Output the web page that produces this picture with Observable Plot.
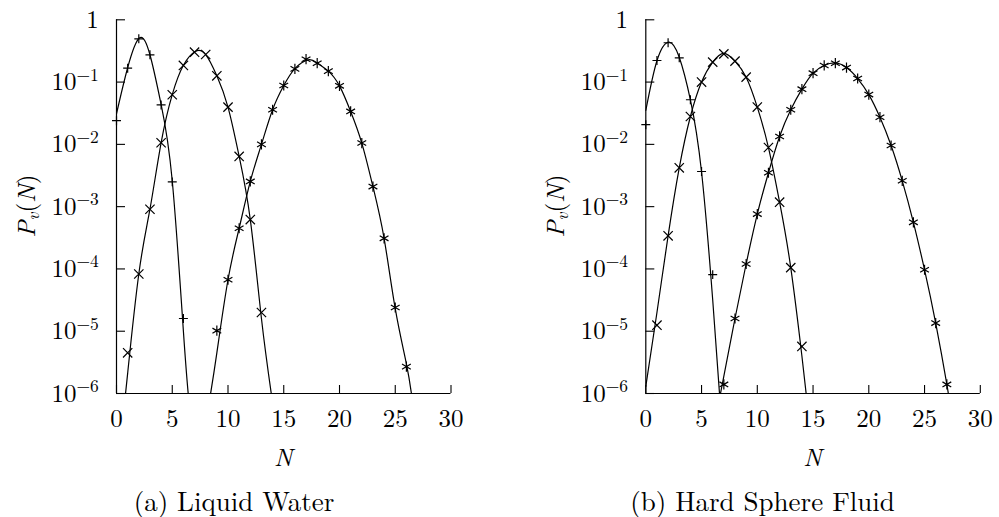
<!DOCTYPE html>
<html><head><meta charset="utf-8">
<script src="https://cdn.jsdelivr.net/npm/d3@7"></script>
<script src="https://cdn.jsdelivr.net/npm/@observablehq/plot@0.6"></script>
<style>
html,body{margin:0;padding:0;background:#fff;}
#wrap{position:relative;width:999px;height:517px;overflow:hidden;background:#fff;
  font-family:"Latin Modern Roman","CMU Serif","Liberation Serif","DejaVu Serif",serif;color:#000;}
.panel{position:absolute;top:0;}
.caption{position:absolute;font-size:27px;line-height:27px;white-space:nowrap;transform:translateX(-50%);}
</style></head><body><div id="wrap"></div>
<script>
const FONT = '"Latin Modern Roman","CMU Serif","Liberation Serif","DejaVu Serif",serif';
const xTicks = [0, 5, 10, 15, 20, 25, 30];
const yTicks = [1e-6, 1e-5, 1e-4, 1e-3, 1e-2, 1e-1, 1];
const captions = ["(a) Liquid Water", "(b) Hard Sphere Fluid"];

// (a) Liquid Water — simulation points
const lwN1 = [0, 1, 2, 3, 4, 5, 6];
const lwP1 = [0.024, 0.167, 0.495, 0.274, 0.043, 0.0025, 1.6e-5];
const lwN2 = [1, 2, 3, 4, 5, 6, 7, 8, 9, 10, 11, 12, 13];
const lwP2 = [4.5e-6, 8.3e-5, 9.1e-4, 0.0106, 0.0625, 0.185, 0.302, 0.277, 0.126, 0.0396, 0.0064, 6.2e-4, 2.0e-5];
const lwN3 = [9, 10, 11, 12, 13, 14, 15, 16, 17, 18, 19, 20, 21, 22, 23, 24, 25, 26];
const lwP3 = [1.02e-5, 6.7e-5, 4.5e-4, 2.54e-3, 0.010, 0.036, 0.088, 0.163, 0.233, 0.201, 0.150, 0.087, 0.0338, 0.0105, 0.0021, 3.1e-4, 2.4e-5, 2.7e-6];
// (a) fitted curves
const lwFitN1 = [0, 1, 2.05, 3, 4, 5, 6, 6.43];
const lwFitP1 = [0.031, 0.17, 0.51, 0.275, 0.044, 0.0026, 1.0e-5, 1e-6];
const lwFitN2 = [0.81, 1, 2, 3, 4, 5, 6, 7.07, 8, 9, 10, 11, 12, 13, 13.88];
const lwFitP2 = [1e-6, 2.1e-6, 8.3e-5, 9.1e-4, 0.0106, 0.063, 0.186, 0.31, 0.277, 0.126, 0.0396, 0.0064, 6.2e-4, 1.6e-5, 1e-6];
const lwFitN3 = [8.44, 9, 10, 11, 12, 13, 14, 15, 16, 17.2, 18, 19, 20, 21, 22, 23, 24, 25, 26, 26.45];
const lwFitP3 = [1e-6, 4.5e-6, 6.7e-5, 4.5e-4, 2.54e-3, 0.010, 0.036, 0.088, 0.165, 0.228, 0.203, 0.150, 0.087, 0.0338, 0.0105, 0.0021, 3.1e-4, 2.3e-5, 3.0e-6, 1e-6];

// (b) Hard Sphere Fluid — simulation points
const hsN1 = [0, 1, 2, 3, 4, 5, 6];
const hsP1 = [0.0207, 0.222, 0.428, 0.245, 0.052, 3.67e-3, 8.1e-5];
const hsN2 = [1, 2, 3, 4, 5, 6, 7, 8, 9, 10, 11, 12, 13, 14];
const hsP2 = [1.25e-5, 3.4e-4, 4.2e-3, 0.028, 0.100, 0.209, 0.284, 0.217, 0.120, 0.0397, 8.9e-3, 1.18e-3, 1.05e-4, 5.7e-6];
const hsN3 = [7, 8, 9, 10, 11, 12, 13, 14, 15, 16, 17, 18, 19, 20, 21, 22, 23, 24, 25, 26, 27];
const hsP3 = [1.4e-6, 1.6e-5, 1.2e-4, 7.6e-4, 3.5e-3, 0.0134, 0.036, 0.077, 0.139, 0.185, 0.201, 0.171, 0.114, 0.063, 0.0273, 9.6e-3, 2.6e-3, 5.6e-4, 9.7e-5, 1.35e-5, 1.4e-6];
// (b) fitted curves
const hsFitN1 = [0, 1, 2.06, 3, 4, 5, 6, 6.61];
const hsFitP1 = [0.035, 0.22, 0.437, 0.25, 0.052, 3.6e-3, 3.2e-5, 1e-6];
const hsFitN2 = [0, 1, 2, 3, 4, 5, 6, 7, 8, 9, 10, 11, 12, 13, 14, 14.38];
const hsFitP2 = [1.3e-6, 2.0e-5, 3.4e-4, 4.2e-3, 0.028, 0.100, 0.209, 0.290, 0.217, 0.120, 0.0397, 8.9e-3, 1.18e-3, 1.05e-4, 4.0e-6, 1e-6];
const hsFitN3 = [6.7, 7, 8, 9, 10, 11, 12, 13, 14, 15, 16, 17, 18, 19, 20, 21, 22, 23, 24, 25, 26, 27, 27.1];
const hsFitP3 = [1e-6, 1.9e-6, 1.6e-5, 1.2e-4, 7.6e-4, 3.5e-3, 0.0134, 0.036, 0.077, 0.139, 0.185, 0.203, 0.171, 0.114, 0.063, 0.0273, 9.6e-3, 2.6e-3, 5.6e-4, 9.7e-5, 1.35e-5, 1.4e-6, 1e-6];

const symbols = ["plus", "times", "asterisk"];
const symbolR = [3.0, 4.3, 4.8];

const zip = (N, P) => N.map((n, i) => ({n, p: P[i]}));

function panel({pts, fits, left, width, marginLeft, caption, captionX}) {
  const frameW = 334.5, top = 19.3, bottom = 393, H = 475;
  const chart = Plot.plot({
    width, height: H,
    marginLeft, marginRight: width - marginLeft - frameW,
    marginTop: top, marginBottom: H - bottom,
    x: {domain: [0, 30]},
    y: {type: "log", domain: [1e-6, 1]},
    style: {fontFamily: FONT, fontSize: "25px", color: "#000", background: "transparent", overflow: "visible"},
    marks: [
      Plot.axisX({ticks: xTicks, tickSize: -8, tickPadding: 24, tickFormat: d => String(d), label: null, strokeWidth: 1.1}),
      Plot.axisY({ticks: yTicks, tickSize: -9, tickPadding: 26.7, label: null, strokeWidth: 1.1,
        tickFormat: d => d === 1 ? "1" : "10^" + Math.round(Math.log10(d))}),
      Plot.ruleX([0], {stroke: "#000", strokeWidth: 1.2}),
      Plot.ruleY([1e-6], {stroke: "#000", strokeWidth: 1.2}),
      ...fits.map(f => Plot.line(zip(f[0], f[1]), {x: "n", y: "p", curve: "natural", stroke: "#000", strokeWidth: 1.2, clip: true})),
      ...pts.map((s, k) => Plot.dot(zip(s[0], s[1]), {x: "n", y: "p", symbol: symbols[k], r: symbolR[k], stroke: "#000", strokeWidth: 1.2}))
    ]
  });
  const svg = d3.select(chart);
  svg.selectAll('g[aria-label="y-axis tick label"] text').each(function () {
    const t = this.textContent;
    if (t.includes("^")) {
      const [b, e] = t.split("^");
      this.textContent = "";
      const s = d3.select(this);
      s.append("tspan").text(b);
      s.append("tspan").attr("font-size", "17.5px").attr("dy", -9.5).text(e.replace("-", "\u2212"));
    }
  });
  // y label P_v(N)
  const yl = svg.append("text")
    .attr("transform", `translate(${marginLeft - 81},206) rotate(-90)`)
    .attr("text-anchor", "middle").attr("font-size", "25px").attr("fill", "#000");
  yl.append("tspan").attr("font-style", "italic").text("P");
  yl.append("tspan").attr("font-style", "italic").attr("font-size", "17.5px").attr("dy", 4).text("v");
  yl.append("tspan").attr("dy", -4).text("(");
  yl.append("tspan").attr("font-style", "italic").text("N");
  yl.append("tspan").text(")");
  // x label N
  svg.append("text").attr("x", marginLeft + frameW / 2).attr("y", 466)
    .attr("text-anchor", "middle").attr("font-style", "italic").attr("font-size", "25px").attr("fill", "#000").text("N");

  const div = document.createElement("div");
  div.className = "panel";
  div.style.left = left + "px";
  div.appendChild(chart);
  document.getElementById("wrap").appendChild(div);

  const cap = document.createElement("div");
  cap.className = "caption";
  cap.style.left = captionX + "px";
  cap.style.top = "486.5px";
  cap.textContent = caption;
  document.getElementById("wrap").appendChild(cap);
}

panel({
  pts: [[lwN1, lwP1], [lwN2, lwP2], [lwN3, lwP3]],
  fits: [[lwFitN1, lwFitP1], [lwFitN2, lwFitP2], [lwFitN3, lwFitP3]],
  left: 0, width: 500, marginLeft: 116, caption: captions[0], captionX: 234
});
panel({
  pts: [[hsN1, hsP1], [hsN2, hsP2], [hsN3, hsP3]],
  fits: [[hsFitN1, hsFitP1], [hsFitN2, hsFitP2], [hsFitN3, hsFitP3]],
  left: 500, width: 499, marginLeft: 145.3, caption: captions[1], captionX: 762.5
});
</script>
</body></html>
